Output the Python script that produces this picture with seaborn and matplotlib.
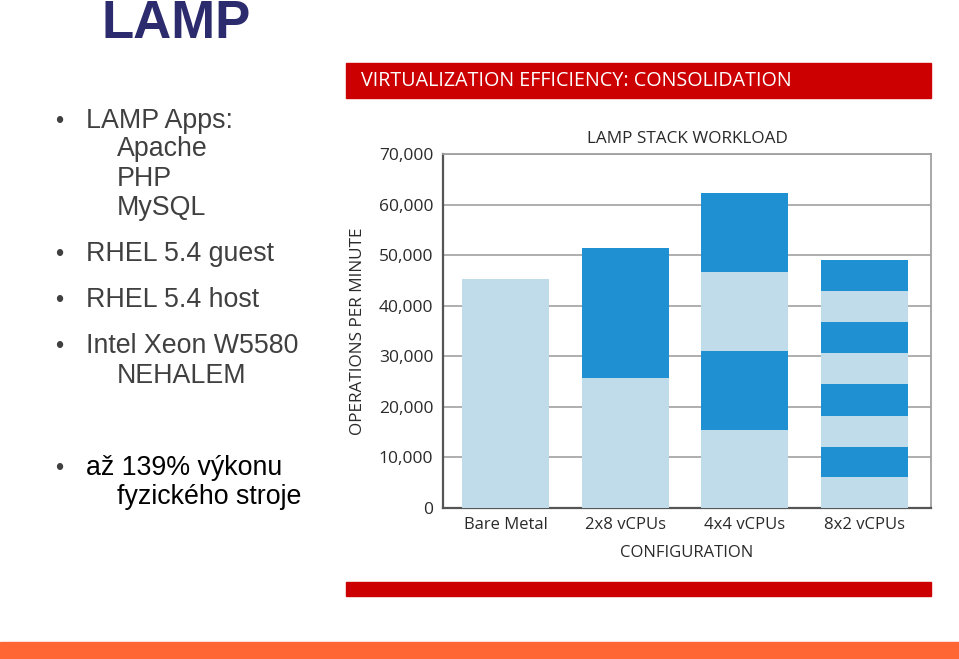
import numpy as np
import pandas as pd
import matplotlib
matplotlib.use('Agg')
import matplotlib.pyplot as plt
from matplotlib.patches import Rectangle
from matplotlib.ticker import FuncFormatter
import seaborn as sns

# ---- data ----
configs = ['Bare Metal', '2x8 vCPUs', '4x4 vCPUs', '8x2 vCPUs']
bare_metal = [45200]
vcpu_2x8 = [25600, 25750]
vcpu_4x4 = [15400, 15550, 15650, 15600]
vcpu_8x2 = [6000, 6050, 6150, 6200, 6150, 6150, 6200, 6100]
y_ticks = [0, 10000, 20000, 30000, 40000, 50000, 60000, 70000]

LIGHT = '#c0dcea'
DARK = '#1f90d2'
GRAY_TXT = '#2a2a2a'

# long table: one row per guest segment, with the running top of the stack
rows = []
for name, segs in zip(configs, [bare_metal, vcpu_2x8, vcpu_4x4, vcpu_8x2]):
    for level, top in enumerate(np.cumsum(segs)):
        rows.append({'config': name, 'level': level, 'top': top})
df = pd.DataFrame(rows)

sns.set_style('white')
plt.rcParams['font.family'] = ['Open Sans', 'DejaVu Sans']

fig = plt.figure(figsize=(9.59, 6.59), dpi=100)
ax = fig.add_axes([443 / 959, 1 - 507.7 / 659, 488 / 959, 353.7 / 659])

# stacked bars: draw tallest running totals first, shorter ones on top
for level in sorted(df['level'].unique(), reverse=True):
    sub = df[df['level'] == level]
    sns.barplot(data=sub, x='config', y='top', order=configs,
                color=DARK if level % 2 else LIGHT, saturation=1,
                width=0.73, linewidth=0, errorbar=None, ax=ax, zorder=3)

ax.set_xlim(-0.524, 3.558)
ax.set_ylim(0, 70000)
ax.set_yticks(y_ticks)
ax.yaxis.set_major_formatter(FuncFormatter(lambda v, p: f'{int(v):,}'))
ax.grid(axis='y', color='#a8a8a8', linewidth=1.3, zorder=0)
ax.set_axisbelow(True)
ax.tick_params(axis='y', length=0, labelsize=12.5, labelcolor=GRAY_TXT, pad=7)
ax.tick_params(axis='x', length=0, labelsize=12, labelcolor=GRAY_TXT, pad=7)
for side in ['left', 'bottom']:
    ax.spines[side].set_color('#555555')
    ax.spines[side].set_linewidth(1.6)
for side in ['top', 'right']:
    ax.spines[side].set_color('#a0a0a0')
    ax.spines[side].set_linewidth(1.3)
ax.set_xlabel('CONFIGURATION', fontsize=12, color=GRAY_TXT, labelpad=8)
ax.set_ylabel('OPERATIONS PER MINUTE', fontsize=12.3, color=GRAY_TXT, labelpad=9)
ax.set_title('LAMP STACK WORKLOAD', fontsize=12.3, color=GRAY_TXT, pad=8)

# header / footer bars of the chart image
fig.patches.append(Rectangle((346 / 959, 1 - 98 / 659), 585 / 959, 35 / 659,
                             transform=fig.transFigure, color='#cc0000', zorder=0))
fig.patches.append(Rectangle((346 / 959, 1 - 596 / 659), 585 / 959, 14 / 659,
                             transform=fig.transFigure, color='#cc0000', zorder=0))
fig.patches.append(Rectangle((0, 0), 1, 17 / 659,
                             transform=fig.transFigure, color='#ff6633', zorder=0))
fig.text(361 / 959, 1 - 81 / 659, 'VIRTUALIZATION EFFICIENCY: CONSOLIDATION',
         color='white', fontsize=14.2, va='center', ha='left')

# slide text
slide_font = ['Liberation Sans', 'DejaVu Sans']
fig.text(176 / 959, 1 - 38.5 / 659, 'LAMP', family=slide_font, fontsize=38,
         fontweight='bold', color='#2b2b6e', ha='center', va='baseline')

bullets = [
    (127.7, 'LAMP Apps:', True, '#404040'),
    (156, 'Apache', False, '#404040'),
    (185.7, 'PHP', False, '#404040'),
    (215, 'MySQL', False, '#404040'),
    (261, 'RHEL 5.4 guest', True, '#404040'),
    (307, 'RHEL 5.4 host', True, '#404040'),
    (353, 'Intel Xeon W5580', True, '#404040'),
    (382.7, 'NEHALEM', False, '#404040'),
    (475, 'až 139% výkonu', True, '#000000'),
    (504, 'fyzického stroje', False, '#000000'),
]
for y, txt, has_dot, col in bullets:
    x = 86 if has_dot else 117
    fig.text(x / 959, 1 - y / 659, txt, family=slide_font, fontsize=19.3,
             color=col, ha='left', va='baseline')
    if has_dot:
        fig.text(59 / 959, 1 - y / 659, '•', family=slide_font, fontsize=17,
                 color='#404040', ha='center', va='baseline')

fig.savefig('out.png', dpi=100)
